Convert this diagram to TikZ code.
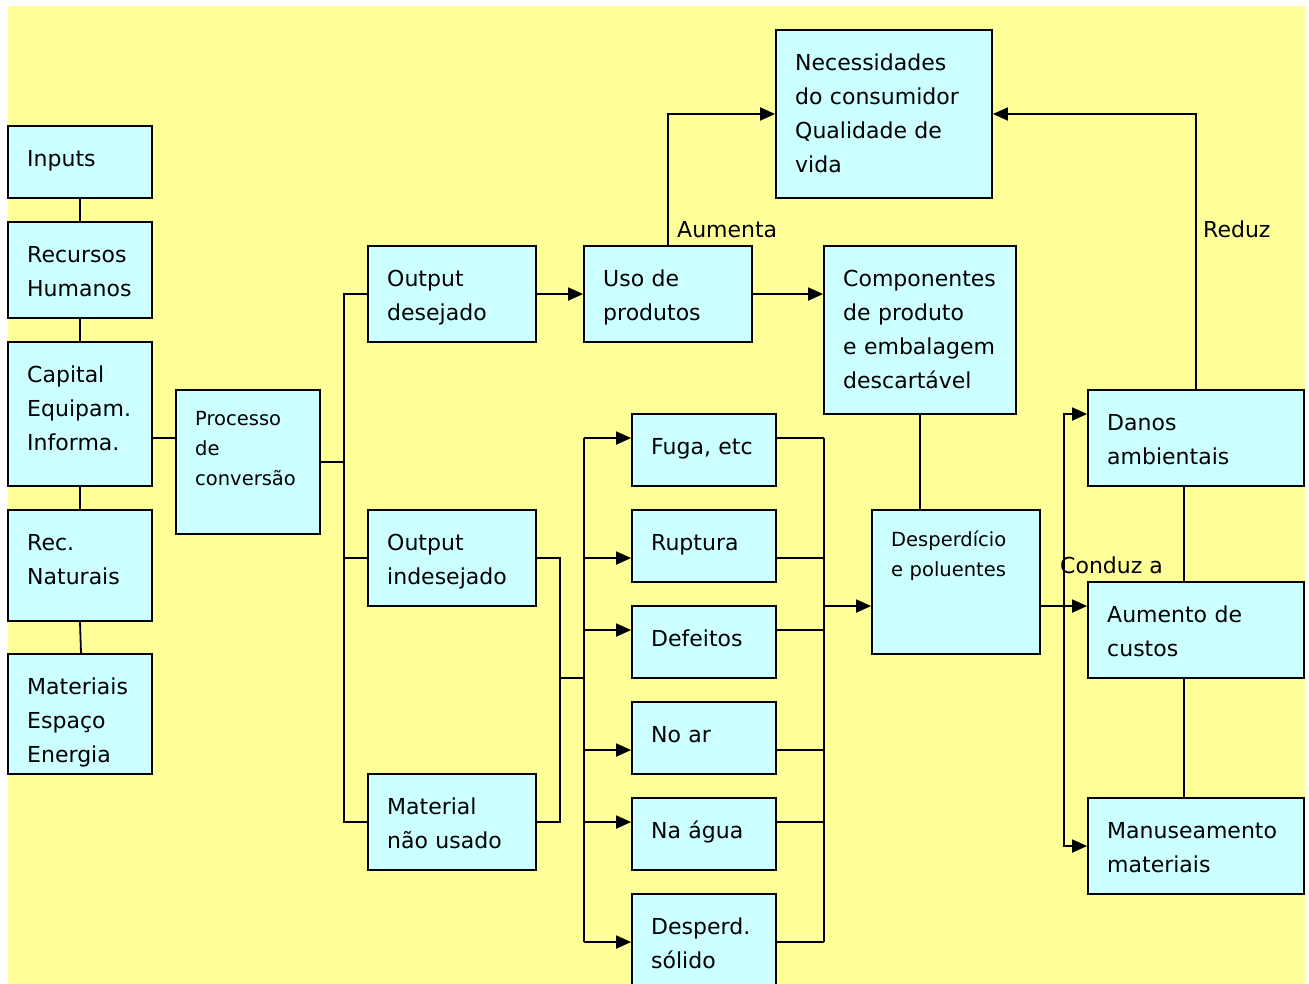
\documentclass[tikz,border=0pt]{standalone}
\usepackage{fontspec}
\setmainfont{DejaVu Sans}
\usetikzlibrary{arrows.meta}
\definecolor{bgyellow}{HTML}{FFFF99}
\definecolor{boxcyan}{HTML}{CCFFFF}
\tikzset{
  boxsh/.style={draw=black, line width=1.8pt, fill=boxcyan, inner sep=0pt},
  bigtxt/.style={anchor=base west, inner sep=0pt, align=left, text width=300pt, font=\fontsize{22}{34}\selectfont},
  smalltxt/.style={anchor=base west, inner sep=0pt, align=left, text width=300pt, font=\fontsize{19.5}{30}\selectfont},
  lbl/.style={anchor=base west, inner sep=0pt, font=\fontsize{22}{34}\selectfont},
  ln/.style={line width=1.8pt},
  arr/.style={line width=1.8pt, -{Triangle[length=15pt,width=13pt]}},
}
\newcommand\mkbox[8]{%
  \pgfmathsetmacro\bw{#4-#2}\pgfmathsetmacro\bh{#5-#3}%
  \node[boxsh, minimum width=\bw pt, minimum height=\bh pt] (#1) at ({(#2+#4)/2},{(#3+#5)/2}) {};
  \node[#6] (#1-t) at ({#2+19},{#3+#7}) {#8};
}
\begin{document}
\begin{tikzpicture}[x=1pt,y=-1pt]
\useasboundingbox (0,0) rectangle (1309,983);
\clip (0,0) rectangle (1309,983);
\fill[bgyellow] (8,6) rectangle (1305,990);

\mkbox{inputs}{8}{126}{152}{198}{bigtxt}{40}{Inputs}
\mkbox{recursos}{8}{222}{152}{318}{bigtxt}{40}{Recursos\\Humanos}
\mkbox{capital}{8}{342}{152}{486}{bigtxt}{40}{Capital\\Equipam.\\Informa.}
\mkbox{naturais}{8}{510}{152}{621}{bigtxt}{40}{Rec.\\Naturais}
\mkbox{materiais}{8}{654}{152}{774}{bigtxt}{40}{Materiais\\Espaço\\Energia}
\mkbox{processo}{176}{390}{320}{534}{smalltxt}{35}{Processo\\de\\conversão}
\mkbox{outdes}{368}{246}{536}{342}{bigtxt}{40}{Output\\desejado}
\mkbox{outind}{368}{510}{536}{606}{bigtxt}{40}{Output\\indesejado}
\mkbox{matnu}{368}{774}{536}{870}{bigtxt}{40}{Material\\não usado}
\mkbox{uso}{584}{246}{752}{342}{bigtxt}{40}{Uso de\\produtos}
\mkbox{necess}{776}{30}{992}{198}{bigtxt}{40}{Necessidades\\do consumidor\\Qualidade de\\vida}
\mkbox{comp}{824}{246}{1016}{414}{bigtxt}{40}{Componentes\\de produto\\e embalagem\\descartável}
\mkbox{fuga}{632}{414}{776}{486}{bigtxt}{40}{Fuga, etc}
\mkbox{ruptura}{632}{510}{776}{582}{bigtxt}{40}{Ruptura}
\mkbox{defeitos}{632}{606}{776}{678}{bigtxt}{40}{Defeitos}
\mkbox{noar}{632}{702}{776}{774}{bigtxt}{40}{No ar}
\mkbox{agua}{632}{798}{776}{870}{bigtxt}{40}{Na água}
\mkbox{solido}{632}{894}{776}{990}{bigtxt}{40}{Desperd.\\sólido}
\mkbox{desperd}{872}{510}{1040}{654}{smalltxt}{36}{Desperdício\\e poluentes}
\mkbox{danos}{1088}{390}{1304}{486}{bigtxt}{40}{Danos\\ambientais}
\mkbox{aumento}{1088}{582}{1304}{678}{bigtxt}{40}{Aumento de\\custos}
\mkbox{manus}{1088}{798}{1304}{894}{bigtxt}{40}{Manuseamento\\materiais}

% left column
\draw[ln] (inputs.south) -- (recursos.north);
\draw[ln] (recursos.south) -- (capital.north);
\draw[ln] (capital.south) -- (naturais.north);
\draw[ln] (naturais.south) -- ([xshift=1pt]materiais.north);
\draw[ln] ([yshift=-24pt]capital.east) -- ([yshift=24pt]processo.west);

% outputs
\coordinate (jA) at (344,462);
\draw[ln] (processo.east) -- (jA);
\draw[ln] (outdes.west) -| (jA) |- (matnu.west);
\draw[ln] (outind.west) -- (outind.west -| jA);

\draw[arr] (outdes.east) -- (uso.west);
\draw[arr] (uso.north) |- (necess.west);
\draw[arr] (uso.east) -- (uso.east -| comp.west);

% unwanted outputs
\coordinate (jB) at (560,678);
\coordinate (jC) at (584,678);
\coordinate (jD) at (824,606);
\draw[ln] (outind.east) -| (jB) |- (matnu.east);
\draw[ln] (jB) -- (jC);

\coordinate (fuga-c) at ([yshift=12pt]fuga.west);
\coordinate (ruptura-c) at ([yshift=-12pt]ruptura.west);
\coordinate (defeitos-c) at ([yshift=12pt]defeitos.west);
\coordinate (noar-c) at ([yshift=-12pt]noar.west);
\coordinate (agua-c) at ([yshift=12pt]agua.west);
\coordinate (solido-c) at (solido.west);

\draw[ln] (fuga-c -| jC) -- (solido-c -| jC);
\draw[ln] (fuga-c -| jD) -- (solido-c -| jD);
\foreach \b in {fuga,ruptura,defeitos,noar,agua,solido}{
  \draw[arr] (\b-c -| jC) -- (\b-c);
  \draw[ln] (\b-c -| \b.east) -- (\b-c -| jD);
}
\draw[arr] (jD) -- (jD -| desperd.west);
\draw[ln] (comp.south) -- (comp.south |- desperd.north);

% consequences
\coordinate (jE) at (1064,606);
\draw[ln] (jD -| desperd.east) -- (jE);
\draw[arr] (jE) -- (jE -| aumento.west);
\draw[arr] (jE) |- ([yshift=24pt]danos.west);
\draw[arr] (jE) |- (manus.west);
\draw[ln] ([xshift=-12pt]danos.south) -- ([xshift=-12pt]aumento.north);
\draw[ln] ([xshift=-12pt]aumento.south) -- ([xshift=-12pt]manus.north);
\draw[arr] (danos.north) |- (necess.east);

% labels
\node[lbl] (l-aum) at (677,237) {Aumenta};
\node[lbl] (l-red) at (1203,237) {Reduz};
\node[lbl] (l-cond) at (1060,573) {Conduz a};
\end{tikzpicture}
\end{document}
